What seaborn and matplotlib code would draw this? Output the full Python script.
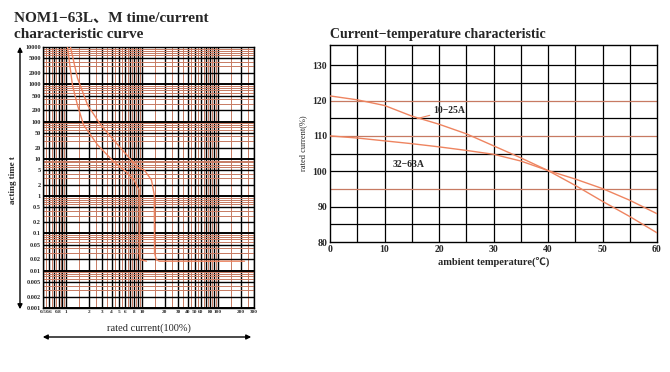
import matplotlib
matplotlib.use("Agg")
import matplotlib.pyplot as plt
import seaborn as sns
import numpy as np
import pandas as pd

# time/current curve (rated current multiple, acting time s)
lower_current = [1.05, 1.22, 1.42, 1.71, 2.62, 4.29, 6.2, 7.9, 9.2, 9.25, 9.4, 11.5]
lower_time = [10000, 957, 279, 81, 23.6, 8.3, 4.5, 2.7, 1.47, 0.03, 0.02, 0.018]
upper_current = [1.15, 1.42, 1.93, 2.88, 4.85, 8.96, 10.8, 13.4, 14.6, 14.7, 15.5, 17, 225]
upper_time = [10000, 1480, 279, 81, 23.6, 5.7, 5.0, 2.7, 1.08, 0.03, 0.02, 0.018, 0.018]

x_ticks_left = [0.5, 0.6, 0.8, 1, 2, 3, 4, 5, 6, 8, 10, 20, 30, 40, 50, 60, 80, 100, 200, 300]
y_ticks_left = [10000, 5000, 2000, 1000, 500, 200, 100, 50, 20, 10, 5, 2, 1,
                0.5, 0.2, 0.1, 0.05, 0.02, 0.01, 0.005, 0.002, 0.001]

# current/temperature curve
temperature = [0, 5, 10, 15, 20, 25, 30, 35, 40, 45, 50, 55, 60]
rated_10_25 = [121.3, 120.2, 118.6, 115.6, 113.3, 110.6, 107.2, 103.8, 100.2, 96.0, 91.5, 87.2, 82.6]
rated_32_63 = [110.0, 109.4, 108.6, 107.8, 106.9, 105.9, 104.8, 102.9, 100.2, 97.8, 95.1, 91.8, 88.0]

sns.set_style("white")
plt.rcParams["font.family"] = ["Liberation Serif", "Noto Sans CJK SC"]

curve_color = "#ee8460"
red_grid = "#c77a62"

fig = plt.figure(figsize=(6.7, 3.72), dpi=100)

# ---- left chart
ax1 = fig.add_axes([43 / 670, 1 - 308 / 372, 211 / 670, 261 / 372])
ax1.set_xscale("log")
ax1.set_yscale("log")
ax1.set_xlim(0.5, 300)
ax1.set_ylim(0.001, 10000)

for d in [0.1, 1, 10, 100]:
    for k in range(1, 10):
        v = k * d
        if 0.5 <= v <= 300:
            ax1.axvline(v, color="black", lw=1.0, zorder=1)
        v2 = (k + 0.5) * d
        if 0.5 <= v2 <= 300:
            ax1.axvline(v2, color=red_grid, lw=0.7, zorder=1)
for d in [0.001, 0.01, 0.1, 1, 10, 100, 1000]:
    for k in range(1, 10):
        v = k * d
        if v > 10000:
            continue
        if k in (1, 2, 5):
            ax1.axhline(v, color="black", lw=1.4 if k == 1 else 1.0, zorder=1)
        else:
            ax1.axhline(v, color=red_grid, lw=0.7, zorder=1)

lower = pd.DataFrame({"current": lower_current, "time": lower_time})
upper = pd.DataFrame({"current": upper_current, "time": upper_time})
sns.lineplot(data=lower, x="current", y="time", sort=False, color=curve_color, lw=1.0, ax=ax1, zorder=3)
sns.lineplot(data=upper, x="current", y="time", sort=False, color=curve_color, lw=1.0, ax=ax1, zorder=3)

ax1.set_xticks(x_ticks_left)
ax1.set_xticklabels([f"{v:g}" for v in x_ticks_left], fontsize=3.8, fontweight="bold")
ax1.set_yticks(y_ticks_left)
ax1.set_yticklabels([f"{v:g}" for v in y_ticks_left], fontsize=4.5, fontweight="bold")
ax1.minorticks_off()
ax1.tick_params(length=0, pad=1.5)
ax1.set_xlabel("")
ax1.set_ylabel("")
for s in ax1.spines.values():
    s.set_color("black")
    s.set_linewidth(1)

fig.text(14 / 670, 1 - 18 / 372, "NOM1−63L、M time/current", fontsize=11, fontweight="bold",
         va="center", ha="left")
fig.text(14 / 670, 1 - 34 / 372, "characteristic curve", fontsize=11, fontweight="bold",
         va="center", ha="left")
fig.text(13 / 670, 1 - 180 / 372, "acting time t", fontsize=6.5, fontweight="bold",
         rotation=90, va="center", ha="center")
fig.text(149 / 670, 1 - 328 / 372, "rated current(100%)", fontsize=7.5, va="center", ha="center")

ax1.annotate("", xy=(20 / 670, 1 - 44 / 372), xytext=(20 / 670, 1 - 312 / 372),
             xycoords="figure fraction", textcoords="figure fraction",
             arrowprops=dict(arrowstyle="<|-|>", color="black", lw=1, mutation_scale=7))
ax1.annotate("", xy=(40 / 670, 1 - 337 / 372), xytext=(254 / 670, 1 - 337 / 372),
             xycoords="figure fraction", textcoords="figure fraction",
             arrowprops=dict(arrowstyle="<|-|>", color="black", lw=1, mutation_scale=7))

# ---- right chart
ax2 = fig.add_axes([330 / 670, 1 - 242 / 372, 327 / 670, 197 / 372])
ax2.set_xlim(0, 60)
ax2.set_ylim(80, 135.7)
for v in range(5, 60, 5):
    ax2.axvline(v, color="black", lw=0.9, zorder=1)
for v in range(85, 135, 5):
    ax2.axhline(v, color=red_grid if v in (95, 110, 120) else "black", lw=0.9, zorder=1)

temp_df = pd.DataFrame({"temp": temperature, "a": rated_10_25, "b": rated_32_63})
sns.lineplot(data=temp_df, x="temp", y="a", color=curve_color, lw=1.0, ax=ax2, zorder=3)
sns.lineplot(data=temp_df, x="temp", y="b", color=curve_color, lw=1.0, ax=ax2, zorder=3)

ax2.annotate("10−25A", xy=(16, 114.9), xytext=(18.9, 117.2), fontsize=7, fontweight="bold",
             va="center", ha="left",
             arrowprops=dict(arrowstyle="-", color=curve_color, lw=0.8, shrinkA=0, shrinkB=0))
ax2.text(11.5, 102, "32−63A", fontsize=7, fontweight="bold", va="center", ha="left")

ax2.set_xticks(range(0, 61, 10))
ax2.set_yticks(range(80, 131, 10))
ax2.tick_params(labelsize=7, length=0, pad=2)
for lab in ax2.get_xticklabels() + ax2.get_yticklabels():
    lab.set_fontweight("bold")
ax2.set_xlabel("ambient temperature(℃)", fontsize=7.5, fontweight="bold", labelpad=2)
ax2.set_ylabel("rated current(%)", fontsize=6, labelpad=4)
ax2.set_title("Current−temperature characteristic", fontsize=10, fontweight="bold", loc="left", pad=5)
for s in ax2.spines.values():
    s.set_color("black")
    s.set_linewidth(1)

fig.savefig("out.png", dpi=100, facecolor="white")
